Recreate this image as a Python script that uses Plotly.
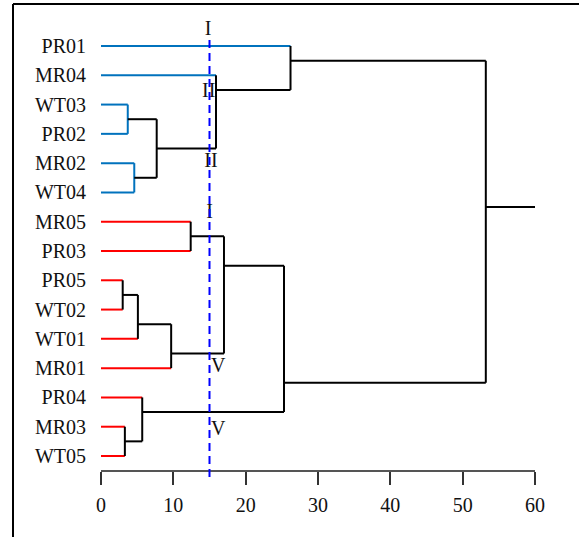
import plotly.graph_objects as go

# ---- data ----
leaves = ["PR01", "MR04", "WT03", "PR02", "MR02", "WT04", "MR05", "PR03",
          "PR05", "WT02", "WT01", "MR01", "PR04", "MR03", "WT05"]
leaf_group = ["blue"] * 6 + ["red"] * 9
# merges: (child a, child b, merge distance, drawn row of the node)
# children < 15 are leaves (index into leaves), >= 15 are earlier merges
merge_a = [2, 4, 15, 1, 0, 6, 8, 21, 22, 20, 13, 12, 24, 19]
merge_b = [3, 5, 16, 17, 18, 7, 9, 10, 11, 23, 14, 25, 26, 27]
merge_h = [3.7, 4.6, 7.7, 15.9, 26.2, 12.4, 3.0, 5.1, 9.7, 17.0, 3.3, 5.7, 25.3, 53.2]
merge_row = [3.5, 5.5, 4.5, 2.5, 1.5, 7.5, 9.5, 10.5, 11.5, 8.5, 14.5, 13.5, 12.5, 6.5]
root_tail = 60
threshold = 15
cluster_labels = ["I", "II", "II", "I", "V", "V"]
cluster_label_x = [14.8, 14.9, 15.2, 15.0, 16.2, 16.2]
cluster_label_row = [0.45, 2.57, 4.96, 6.7, 11.96, 14.1]
x_ticks = [0, 10, 20, 30, 40, 50, 60]

COL = {"blue": "#0072BD", "red": "#FF0000"}
BLACK = "#000000"
FONT = "Liberation Serif"

n = len(leaves)
pos_x = {i: 0.0 for i in range(n)}
pos_y = {i: float(i + 1) for i in range(n)}
segs = {COL["blue"]: ([], []), COL["red"]: ([], []), BLACK: ([], [])}


def add(col, xs, ys):
    segs[col][0].extend(xs + [None])
    segs[col][1].extend(ys + [None])


for k, (a, b, h, r) in enumerate(zip(merge_a, merge_b, merge_h, merge_row)):
    node = n + k
    both_leaves = a < n and b < n
    for c in (a, b):
        col = COL[leaf_group[c]] if c < n else BLACK
        add(col, [pos_x[c], h], [pos_y[c], pos_y[c]])
    vcol = BLACK
    if both_leaves and leaf_group[a] == "blue" and leaf_group[b] == "blue":
        vcol = COL["blue"]
    add(vcol, [h, h], [pos_y[a], pos_y[b]])
    pos_x[node] = h
    pos_y[node] = r

root = n + len(merge_h) - 1
add(BLACK, [pos_x[root], root_tail], [pos_y[root], pos_y[root]])

fig = go.Figure()
for col, (xs, ys) in segs.items():
    fig.add_trace(go.Scatter(x=xs, y=ys, mode="lines",
                             line=dict(color=col, width=2),
                             hoverinfo="skip", showlegend=False))

fig.add_trace(go.Scatter(x=cluster_label_x, y=cluster_label_row, mode="text",
                         text=cluster_labels,
                         textfont=dict(family=FONT, size=20, color="#111"),
                         hoverinfo="skip", showlegend=False))

H_PLOT = 460
fig.add_shape(type="line", xref="x", yref="paper", x0=threshold, x1=threshold,
              y0=-7 / H_PLOT, y1=1 - 28 / H_PLOT, layer="above",
              line=dict(color="#0000FF", width=2, dash="8px,5px"))

# outer frame (left and top edges)
fig.add_shape(type="line", xref="paper", yref="paper",
              x0=(13 - 101) / 434, x1=1.3, y0=1 + 6 / H_PLOT, y1=1 + 6 / H_PLOT,
              line=dict(color="#000", width=2), layer="below")
fig.add_shape(type="line", xref="paper", yref="paper",
              x0=(13 - 101) / 434, x1=(13 - 101) / 434, y0=-0.3, y1=1 + 6 / H_PLOT,
              line=dict(color="#000", width=2), layer="below")

fig.update_layout(
    width=579, height=537,
    margin=dict(l=101, r=44, t=10, b=67),
    paper_bgcolor="white", plot_bgcolor="white",
    font=dict(family=FONT, size=20, color="#111"),
    xaxis=dict(range=[0, 60], tickvals=x_ticks, ticktext=[str(v) for v in x_ticks],
               showgrid=False, zeroline=False, showline=True, linecolor="#555",
               linewidth=1.5, ticks="outside", ticklen=13, tickcolor="#333",
               tickwidth=1.5, ticklabelstandoff=3,
               tickfont=dict(family=FONT, size=20, color="#111")),
    yaxis=dict(range=[15.478, -0.229], tickvals=list(range(1, n + 1)), ticktext=leaves,
               showgrid=False, zeroline=False, showline=False, ticks="",
               ticklabelstandoff=14,
               tickfont=dict(family=FONT, size=20, color="#111")),
)

fig.write_html("out.html", config={"displayModeBar": False},
               post_script="document.body.style.margin='0';")
